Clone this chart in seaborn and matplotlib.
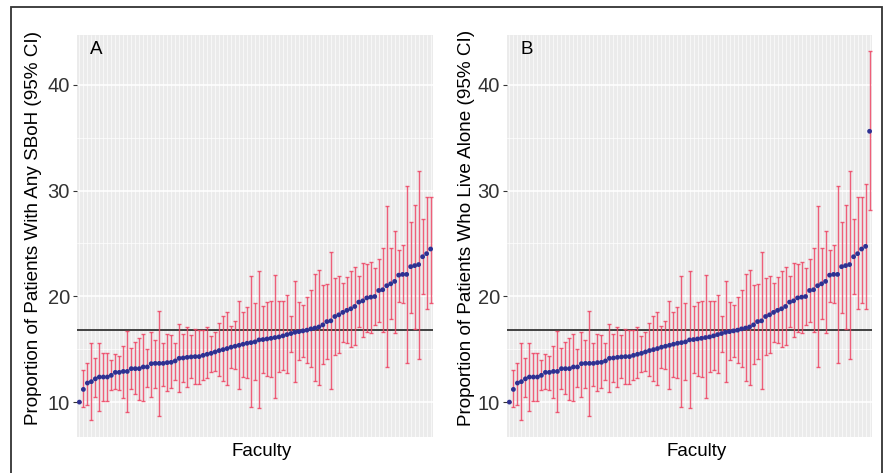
import numpy as np
import pandas as pd
import matplotlib
matplotlib.use("Agg")
import matplotlib.pyplot as plt
from matplotlib.patches import Rectangle
import seaborn as sns

# ---- data ----
sboh_est = [10.0, 11.2, 11.8, 11.93, 12.2, 12.37, 12.37, 12.37, 12.53, 12.81,
            12.81, 12.9, 12.9, 13.16, 13.16, 13.16, 13.32, 13.32, 13.63, 13.66,
            13.66, 13.66, 13.73, 13.76, 13.89, 14.14, 14.17, 14.23, 14.27, 14.3,
            14.3, 14.42, 14.52, 14.61, 14.74, 14.87, 14.96, 15.06, 15.19, 15.28,
            15.37, 15.47, 15.56, 15.62, 15.69, 15.88, 15.91, 15.97, 16.03, 16.1,
            16.16, 16.26, 16.38, 16.48, 16.6, 16.66, 16.73, 16.8, 16.92, 17.0,
            17.1, 17.3, 17.61, 17.68, 18.09, 18.25, 18.48, 18.67, 18.82, 19.04,
            19.45, 19.57, 19.85, 19.92, 19.98, 20.55, 20.62, 21.0, 21.18, 21.41,
            22.0, 22.07, 22.07, 22.8, 22.9, 23.0, 23.74, 24.03, 24.47]
sboh_upper = [10.0, 13.0, 13.67, 15.56, 14.14, 15.6, 14.67, 14.67, 13.95, 14.55,
              14.39, 15.28, 16.76, 15.09, 15.69, 16.03, 16.48, 15.06, 16.63, 15.88,
              18.6, 15.6, 16.42, 16.36, 15.62, 17.42, 16.47, 17.14, 16.32, 16.89,
              16.82, 16.82, 17.1, 16.26, 16.66, 17.46, 18.15, 18.56, 17.2, 17.68,
              19.6, 18.56, 18.97, 21.94, 19.35, 22.35, 19.04, 19.44, 19.6, 22.04,
              19.6, 19.6, 20.14, 18.18, 21.4, 19.44, 19.19, 19.89, 20.62, 22.1,
              22.51, 21.03, 21.16, 24.15, 21.75, 21.96, 21.22, 21.87, 22.38, 22.76,
              21.94, 23.14, 23.08, 23.24, 22.64, 23.52, 24.6, 28.58, 24.57, 26.2,
              24.41, 24.82, 30.44, 27.03, 28.64, 31.86, 27.3, 29.4, 29.35]
sboh_lower = [10.0, 9.56, 9.69, 8.29, 10.44, 9.15, 10.12, 10.12, 11.14, 11.2,
              11.14, 10.41, 9.02, 11.2, 10.76, 10.19, 10.12, 11.39, 10.5, 11.3,
              8.67, 11.5, 11.04, 11.3, 12.09, 10.95, 11.9, 11.39, 12.24, 11.74,
              11.74, 12.09, 12.3, 12.87, 12.97, 12.46, 12.02, 11.61, 13.25, 13.09,
              11.2, 12.34, 12.24, 9.5, 12.09, 9.4, 12.72, 12.5, 12.4, 10.41,
              12.8, 13.03, 12.77, 14.71, 11.93, 13.98, 14.3, 13.73, 13.3, 12.0,
              11.66, 13.6, 14.1, 11.26, 14.45, 14.6, 15.67, 15.58, 15.2, 15.4,
              17.08, 16.13, 16.6, 16.51, 17.24, 17.61, 16.6, 13.35, 17.87, 16.57,
              19.5, 19.32, 13.66, 18.4, 16.95, 14.04, 20.2, 18.78, 19.4]

alone_est = sboh_est + [24.72, 35.6]
alone_upper = sboh_upper + [30.63, 43.2]
alone_lower = sboh_lower + [18.8, 28.2]

reference_value = 16.8
y_ticks = [10, 20, 30, 40]
panel_letters = ["A", "B"]
y_titles = ["Proportion of Patients With Any SBoH (95% CI)",
            "Proportion of Patients Who Live Alone (95% CI)"]
x_title = "Faculty"

# ---- style ----
sns.set_theme(style="darkgrid")
plt.rcParams["font.family"] = ["Liberation Sans", "DejaVu Sans"]

BG = "#EBEBEB"
DOT = "#2E3192"
BAR = "#EE4463"

fig = plt.figure(figsize=(8.93, 4.73), dpi=100)
W, H = 893, 473

# outer frame
fig.patches.append(Rectangle((11 / W, -0.02), (882 - 11) / W, (473 - 7) / H + 0.02,
                             transform=fig.transFigure, fill=False,
                             edgecolor="#333333", linewidth=1.3))

panels = [
    (sboh_est, sboh_lower, sboh_upper, (77, 433), -0.123),
    (alone_est, alone_lower, alone_upper, (507, 872), -0.112),
]

for k, (est, lo, up, (x0, x1), ylab_x) in enumerate(panels):
    ax = fig.add_axes([x0 / W, (H - 437) / H, (x1 - x0) / W, (437 - 35) / H])
    n = len(est)
    df = pd.DataFrame({"faculty": np.arange(n), "est": est,
                       "lo": lo, "up": up})
    ax.set_facecolor(BG)
    ax.grid(False)
    # grid lines
    for i in range(n):
        ax.axvline(i, color="white", lw=0.45, zorder=0)
    for yv in [15, 25, 35, 45]:
        ax.axhline(yv, color="white", lw=0.5, zorder=0)
    for yv in y_ticks:
        ax.axhline(yv, color="white", lw=1.1, zorder=0)

    ax.axhline(reference_value, color="#333333", lw=1.3, zorder=2)

    ax.errorbar(df["faculty"], df["est"],
                yerr=[df["est"] - df["lo"], df["up"] - df["est"]],
                fmt="none", ecolor=BAR, elinewidth=1.0, capsize=1.4,
                capthick=1.0, alpha=0.85, zorder=3)
    sns.scatterplot(data=df, x="faculty", y="est", ax=ax, color=DOT,
                    s=12, edgecolor="none", zorder=4, legend=False)

    ax.set_xlim(-0.6, n - 1 + 0.6)
    ax.set_ylim(6.7, 44.7)
    ax.set_xticks([])
    ax.set_yticks(y_ticks)
    ax.set_yticklabels([str(t) for t in y_ticks])
    ax.tick_params(axis="y", length=3, width=0.8, color="#333333",
                   labelsize=14.5, labelcolor="#333333", pad=2, left=True)
    for s in ax.spines.values():
        s.set_visible(False)
    ax.set_xlabel(x_title, fontsize=13.5, color="black")
    ax.xaxis.set_label_coords(0.52, -0.037)
    ax.xaxis.label.set_va("center")
    ax.set_ylabel(y_titles[k], fontsize=13.6, color="black")
    ax.yaxis.label.set_va("center")
    ax.yaxis.set_label_coords(ylab_x, 0.52)
    ax.text(0.053, 0.963, panel_letters[k], transform=ax.transAxes,
            fontsize=13.5, ha="center", va="center", color="black")

fig.savefig("out.png", dpi=100)
